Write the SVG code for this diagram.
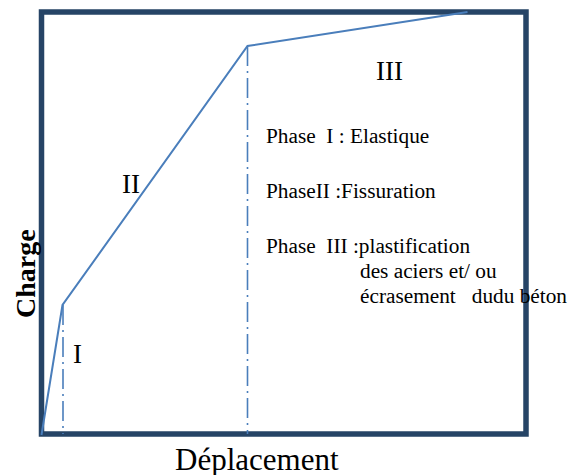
<svg xmlns="http://www.w3.org/2000/svg" width="569" height="475" viewBox="0 0 569 475">
  <style>
    .frame { fill: none; stroke: #264466; stroke-width: 5.5; }
    .curve { fill: none; stroke: #4a7ebb; stroke-width: 2; stroke-linejoin: miter; }
    .guide { fill: none; stroke: #4a7ebb; stroke-width: 1.6; stroke-dasharray: 20 5 2 5; }
    .t { font-family: "Liberation Serif", "Times New Roman", serif; fill: #000; }
    .num { font-size: 27px; }
    .legend { font-size: 21.3px; }
    .axis { font-size: 31px; }
    .axisb { font-size: 28px; font-weight: bold; }
  </style>

  <!-- plot frame -->
  <g id="frame">
    <rect class="frame" x="41.5" y="12" width="484.5" height="422"/>
  </g>

  <!-- load–displacement curve and phase boundaries -->
  <g id="connectors">
    <line class="guide" x1="63" y1="305" x2="63" y2="434"/>
    <line class="guide" x1="247.5" y1="46" x2="247.5" y2="434"/>
    <polyline class="curve" points="41.5,435 62.5,305 247.5,46 467.5,12"/>
  </g>

  <!-- phase numerals -->
  <g id="phase-I"><text class="t num" x="73" y="363">I</text></g>
  <g id="phase-II"><text class="t num" x="122" y="193">II</text></g>
  <g id="phase-III"><text class="t num" x="376" y="80">III</text></g>

  <!-- legend -->
  <g id="legend" class="t legend">
    <text x="266" y="143" xml:space="preserve">Phase  I : Elastique</text>
    <text x="266" y="198">PhaseII :Fissuration</text>
    <text x="266" y="253" xml:space="preserve">Phase  III :plastification</text>
    <text x="360" y="278">des aciers et/ ou</text>
    <text x="360" y="303" xml:space="preserve">écrasement   dudu béton</text>
  </g>

  <!-- axis titles -->
  <g id="x-axis-title"><text class="t axis" x="175" y="470">Déplacement</text></g>
  <g id="y-axis-title"><text class="t axisb" transform="translate(35,318) rotate(-90)">Charge</text></g>
</svg>
